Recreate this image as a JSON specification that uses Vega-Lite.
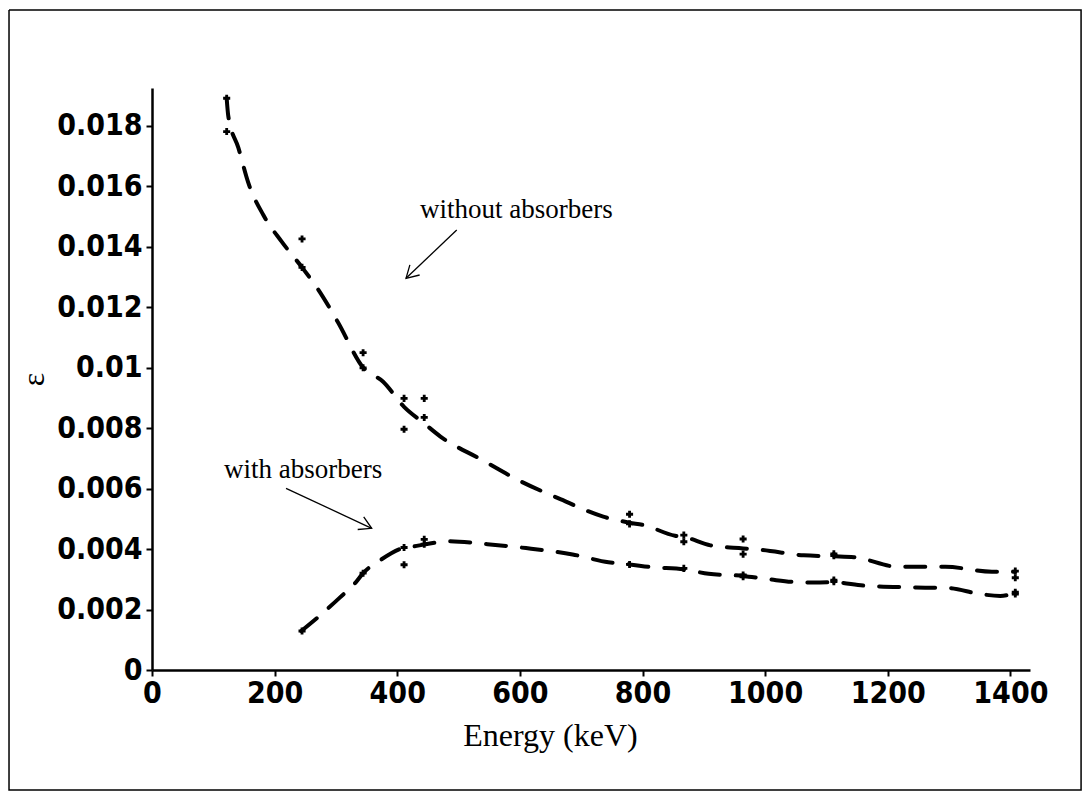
{
  "$schema": "https://vega.github.io/schema/vega-lite/v6.json",
  "width": 878,
  "height": 582,
  "autosize": {"type": "none"},
  "padding": {"left": 152, "top": 88, "right": 60, "bottom": 131},
  "background": "white",
  "config": {
    "view": {"stroke": null},
    "axis": {
      "domainColor": "black", "domainWidth": 2.5, "tickColor": "black", "tickWidth": 2, "tickSize": 6,
      "labelFont": "DejaVu Sans Condensed", "labelFontWeight": "bold", "labelFontSize": 30, "labelColor": "black",
      "titleFont": "Liberation Serif", "titleFontWeight": "normal", "titleColor": "black", "titleFontSize": 32,
      "grid": false, "labelOverlap": false, "labelFlush": false
    },
    "axisX": {"labelPadding": 2, "titlePadding": 12, "titleX": 398, "titleAlign": "center"},
    "axisY": {"labelPadding": 4, "titlePadding": 6}
  },
  "datasets": {
    "frame": [
      {"o": 1, "energy": -233.2, "eff": 0.021818},
      {"o": 2, "energy": 1515.3, "eff": 0.021818},
      {"o": 3, "energy": 1515.3, "eff": -0.003967},
      {"o": 4, "energy": -233.2, "eff": -0.003967},
      {"o": 5, "energy": -233.2, "eff": 0.021818}
    ],
    "fits": [
      {"series": "without", "energy": 121.8, "eff": 0.0189},
      {"series": "without", "energy": 124.5, "eff": 0.0183},
      {"series": "without", "energy": 140.8, "eff": 0.01727},
      {"series": "without", "energy": 157, "eff": 0.01611},
      {"series": "without", "energy": 181.6, "eff": 0.01504},
      {"series": "without", "energy": 211.5, "eff": 0.01416},
      {"series": "without", "energy": 244.7, "eff": 0.01331},
      {"series": "without", "energy": 271, "eff": 0.01258},
      {"series": "without", "energy": 303.5, "eff": 0.01149},
      {"series": "without", "energy": 344.3, "eff": 0.0100},
      {"series": "without", "energy": 377, "eff": 0.00953},
      {"series": "without", "energy": 411.1, "eff": 0.0087},
      {"series": "without", "energy": 444, "eff": 0.00815},
      {"series": "without", "energy": 471, "eff": 0.00771},
      {"series": "without", "energy": 536, "eff": 0.00697},
      {"series": "without", "energy": 600, "eff": 0.00625},
      {"series": "without", "energy": 667, "eff": 0.00564},
      {"series": "without", "energy": 736, "eff": 0.00507},
      {"series": "without", "energy": 778.9, "eff": 0.00487},
      {"series": "without", "energy": 802, "eff": 0.00479},
      {"series": "without", "energy": 853, "eff": 0.00444},
      {"series": "without", "energy": 867.4, "eff": 0.0044},
      {"series": "without", "energy": 911, "eff": 0.00412},
      {"series": "without", "energy": 964.1, "eff": 0.00402},
      {"series": "without", "energy": 995, "eff": 0.00397},
      {"series": "without", "energy": 1063, "eff": 0.00379},
      {"series": "without", "energy": 1112.1, "eff": 0.00376},
      {"series": "without", "energy": 1145, "eff": 0.00373},
      {"series": "without", "energy": 1218, "eff": 0.00341},
      {"series": "without", "energy": 1294, "eff": 0.00341},
      {"series": "without", "energy": 1370, "eff": 0.00325},
      {"series": "without", "energy": 1408, "eff": 0.00325},
      {"series": "with", "energy": 243.5, "eff": 0.00129},
      {"series": "with", "energy": 268.7, "eff": 0.00171},
      {"series": "with", "energy": 306.7, "eff": 0.0024},
      {"series": "with", "energy": 332, "eff": 0.00289},
      {"series": "with", "energy": 344.3, "eff": 0.0032},
      {"series": "with", "energy": 373, "eff": 0.00364},
      {"series": "with", "energy": 411.1, "eff": 0.00404},
      {"series": "with", "energy": 426, "eff": 0.00408},
      {"series": "with", "energy": 444, "eff": 0.00415},
      {"series": "with", "energy": 472.6, "eff": 0.00424},
      {"series": "with", "energy": 482, "eff": 0.00426},
      {"series": "with", "energy": 547, "eff": 0.00416},
      {"series": "with", "energy": 610, "eff": 0.00403},
      {"series": "with", "energy": 686, "eff": 0.00382},
      {"series": "with", "energy": 744.5, "eff": 0.00356},
      {"series": "with", "energy": 778.9, "eff": 0.00349},
      {"series": "with", "energy": 815, "eff": 0.0034},
      {"series": "with", "energy": 867.4, "eff": 0.00333},
      {"series": "with", "energy": 907.7, "eff": 0.00318},
      {"series": "with", "energy": 964.1, "eff": 0.00311},
      {"series": "with", "energy": 1005.6, "eff": 0.003},
      {"series": "with", "energy": 1066.5, "eff": 0.00289},
      {"series": "with", "energy": 1112.1, "eff": 0.0029},
      {"series": "with", "energy": 1160.6, "eff": 0.00279},
      {"series": "with", "energy": 1246, "eff": 0.00273},
      {"series": "with", "energy": 1299, "eff": 0.00271},
      {"series": "with", "energy": 1351, "eff": 0.00251},
      {"series": "with", "energy": 1383.6, "eff": 0.00245},
      {"series": "with", "energy": 1408, "eff": 0.00254}
    ],
    "points": [
      {"series": "without", "energy": 121.8, "eff": 0.0189},
      {"series": "without", "energy": 121.8, "eff": 0.0178},
      {"series": "without", "energy": 244.7, "eff": 0.01425},
      {"series": "without", "energy": 244.7, "eff": 0.01331},
      {"series": "without", "energy": 344.3, "eff": 0.01049},
      {"series": "without", "energy": 344.3, "eff": 0.00999},
      {"series": "without", "energy": 411.1, "eff": 0.00898},
      {"series": "without", "energy": 411.1, "eff": 0.00796},
      {"series": "without", "energy": 444.0, "eff": 0.00898},
      {"series": "without", "energy": 444.0, "eff": 0.00835},
      {"series": "without", "energy": 778.9, "eff": 0.00515},
      {"series": "without", "energy": 778.9, "eff": 0.00483},
      {"series": "without", "energy": 867.4, "eff": 0.00446},
      {"series": "without", "energy": 867.4, "eff": 0.00424},
      {"series": "without", "energy": 964.1, "eff": 0.00433},
      {"series": "without", "energy": 964.1, "eff": 0.00383},
      {"series": "without", "energy": 1112.1, "eff": 0.00384},
      {"series": "without", "energy": 1112.1, "eff": 0.00378},
      {"series": "without", "energy": 1408.0, "eff": 0.00327},
      {"series": "without", "energy": 1408.0, "eff": 0.00305},
      {"series": "with", "energy": 244.7, "eff": 0.00129},
      {"series": "with", "energy": 344.3, "eff": 0.0032},
      {"series": "with", "energy": 411.1, "eff": 0.00405},
      {"series": "with", "energy": 411.1, "eff": 0.00348},
      {"series": "with", "energy": 444.0, "eff": 0.00432},
      {"series": "with", "energy": 444.0, "eff": 0.00416},
      {"series": "with", "energy": 778.9, "eff": 0.00349},
      {"series": "with", "energy": 867.4, "eff": 0.00336},
      {"series": "with", "energy": 964.1, "eff": 0.00314},
      {"series": "with", "energy": 964.1, "eff": 0.00308},
      {"series": "with", "energy": 1112.1, "eff": 0.00297},
      {"series": "with", "energy": 1112.1, "eff": 0.00292},
      {"series": "with", "energy": 1408.0, "eff": 0.00257},
      {"series": "with", "energy": 1408.0, "eff": 0.00251}
    ],
    "arrows": [
      {"arrow": "a1", "o": 1, "energy": 497, "eff": 0.014545},
      {"arrow": "a1", "o": 2, "energy": 414.3, "eff": 0.012949},
      {"arrow": "h1", "o": 1, "energy": 436.5, "eff": 0.013058},
      {"arrow": "h1", "o": 2, "energy": 414.3, "eff": 0.012949},
      {"arrow": "h1", "o": 3, "energy": 420.6, "eff": 0.013392},
      {"arrow": "a2", "o": 1, "energy": 218.6, "eff": 0.006007},
      {"arrow": "a2", "o": 2, "energy": 358.3, "eff": 0.004684},
      {"arrow": "h2", "o": 1, "energy": 345.3, "eff": 0.005064},
      {"arrow": "h2", "o": 2, "energy": 358.3, "eff": 0.004684},
      {"arrow": "h2", "o": 3, "energy": 335.5, "eff": 0.004645}
    ],
    "labels": [
      {"text": "without absorbers", "energy": 437, "eff": 0.01494},
      {"text": "with absorbers", "energy": 117.4, "eff": 0.00635}
    ]
  },
  "layer": [
    {
      "data": {"name": "frame"},
      "mark": {"type": "line", "color": "black", "strokeWidth": 1.5, "clip": false},
      "encoding": {
        "x": {"field": "energy", "type": "quantitative", "scale": {"domain": [0, 1432], "nice": false, "zero": false}, "title": "Energy (keV)"},
        "y": {"field": "eff", "type": "quantitative", "scale": {"domain": [0, 0.01924], "nice": false, "zero": false}, "title": "ε"},
        "order": {"field": "o"}
      }
    },
    {
      "data": {"name": "fits"},
      "mark": {"type": "line", "color": "black", "strokeWidth": 4, "strokeDash": [20, 16], "strokeCap": "round", "interpolate": "monotone"},
      "encoding": {
        "x": {"field": "energy", "type": "quantitative", "scale": {"domain": [0, 1432], "nice": false, "zero": false}, "title": "Energy (keV)",
              "axis": {"values": [0, 200, 400, 600, 800, 1000, 1200, 1400], "format": "d"}},
        "y": {"field": "eff", "type": "quantitative", "scale": {"domain": [0, 0.01924], "nice": false, "zero": false}, "title": "ε",
              "axis": {"values": [0, 0.002, 0.004, 0.006, 0.008, 0.01, 0.012, 0.014, 0.016, 0.018], "format": "~g"}},
        "detail": {"field": "series"}
      }
    },
    {
      "data": {"name": "points"},
      "mark": {"type": "point", "shape": "cross", "filled": true, "color": "black", "size": 50, "opacity": 1},
      "encoding": {
        "x": {"field": "energy", "type": "quantitative", "scale": {"domain": [0, 1432], "nice": false, "zero": false}, "title": "Energy (keV)"},
        "y": {"field": "eff", "type": "quantitative", "scale": {"domain": [0, 0.01924], "nice": false, "zero": false}, "title": "ε"}
      }
    },
    {
      "data": {"name": "arrows"},
      "mark": {"type": "line", "color": "black", "strokeWidth": 1.3},
      "encoding": {
        "x": {"field": "energy", "type": "quantitative", "scale": {"domain": [0, 1432], "nice": false, "zero": false}, "title": "Energy (keV)"},
        "y": {"field": "eff", "type": "quantitative", "scale": {"domain": [0, 0.01924], "nice": false, "zero": false}, "title": "ε"},
        "detail": {"field": "arrow"},
        "order": {"field": "o"}
      }
    },
    {
      "data": {"name": "labels"},
      "mark": {"type": "text", "font": "Liberation Serif", "fontSize": 27, "color": "black", "align": "left", "baseline": "alphabetic"},
      "encoding": {
        "x": {"field": "energy", "type": "quantitative", "scale": {"domain": [0, 1432], "nice": false, "zero": false}, "title": "Energy (keV)"},
        "y": {"field": "eff", "type": "quantitative", "scale": {"domain": [0, 0.01924], "nice": false, "zero": false}, "title": "ε"},
        "text": {"field": "text"}
      }
    }
  ]
}
